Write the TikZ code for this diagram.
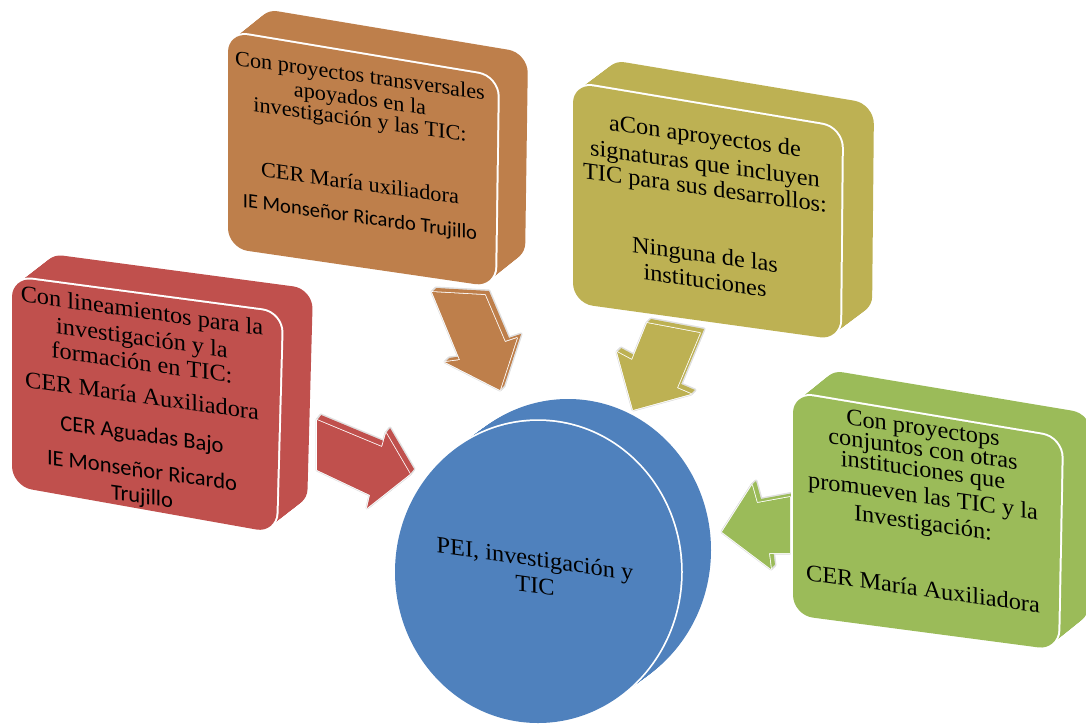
\documentclass[tikz,border=0pt]{standalone}
\usepackage{fontspec}
\newfontfamily\serifA[FakeStretch=1.035]{Liberation Serif}
\newfontfamily\calA{Carlito}
\definecolor{cred}{HTML}{C0504D}
\definecolor{corange}{HTML}{BE7F4B}
\definecolor{colive}{HTML}{BDB153}
\definecolor{cgreen}{HTML}{9BBB59}
\definecolor{cblue}{HTML}{4F81BD}
\tikzset{
  ln/.style={yslant=-0.14, transform shape, inner sep=0pt, text height=15pt, text depth=0pt, anchor=center, font=\serifA\fontsize{23.5}{26}\selectfont},
  lns/.style={ln, font=\serifA\fontsize{21.5}{24}\selectfont},
  lc/.style={ln, font=\calA\fontsize{20.5}{24}\selectfont},
  lcb/.style={ln, font=\calA\fontsize{22.5}{26}\selectfont},
}
% #1 colour, #2-#5 corners, #6 dx, #7 dy
\newcommand\slab[7]{%
  \foreach \t in {0,0.04,...,1.001}{\fill[#1, rounded corners=20pt, shift={(\t*#6,\t*#7)}] #2 -- #3 -- #4 -- #5 -- cycle;}
  \draw[white, line width=4pt, rounded corners=20pt] #2 -- #3 -- #4 -- #5 -- cycle;
  \fill[#1, rounded corners=20pt] #2 -- #3 -- #4 -- #5 -- cycle;
}
% #1 colour, #2 dx, #3 dy, #4 outline
\newcommand\blockarrow[4]{%
  \foreach \t in {0,0.1,...,1.001}{\draw[black!12, line width=3pt, line join=round, shift={(\t*#2,\t*#3)}] #4 -- cycle;}
  \foreach \t in {0,0.1,...,1.001}{\fill[#1, shift={(\t*#2,\t*#3)}] #4 -- cycle;}
  \draw[white, line width=1.6pt, line join=round] #4 -- cycle;
  \fill[#1] #4 -- cycle;
}
\begin{document}
\begin{tikzpicture}[x=1pt,y=-1pt]
\useasboundingbox (0,0) rectangle (1086,725);
\fill[white] (0,0) rectangle (1086,725);
\clip (0,0) rectangle (1086,725);

% arrows
\blockarrow{cred}{4}{-5}{(317,420) -- (382,447) -- (386,433) -- (410,474) -- (367,508) -- (370,495) -- (317,470)}
\blockarrow{corange}{4}{-4}{(432,292) -- (460,360) -- (445,362) -- (500,390) -- (517,338) -- (505,342) -- (485,295)}
\blockarrow{colive}{4}{-4}{(647,323) -- (632,360) -- (617,352) -- (633,410) -- (691,394) -- (677,388) -- (700,333)}
\blockarrow{cgreen}{4}{-4}{(790,497) -- (757,503) -- (752,485) -- (722,532) -- (771,569) -- (769,553) -- (790,553)}

% boxes
\slab{cred}{(12,277)}{(282,313)}{(276,533)}{(12,486)}{31}{-24}
\slab{corange}{(228,32)}{(498,77)}{(495,287)}{(228,248)}{30}{-24}
\slab{colive}{(573,83)}{(842,128)}{(840,340)}{(573,303)}{32}{-24}
\slab{cgreen}{(793,393)}{(1062,438)}{(1058,650)}{(793,615)}{30}{-24}

% hub
\foreach \t in {0,0.04,...,1.001}{\fill[cblue] (538+\t*30, 572-\t*22) ellipse [x radius=143pt, y radius=151pt];}
\draw[white, line width=3.5pt] (538,572) ellipse [x radius=143pt, y radius=151pt];
\fill[cblue] (538,572) ellipse [x radius=143pt, y radius=151pt];

% texts
\node[ln] (r1) at (142,311) {Con lineamientos para la};
\node[ln] (r2) at (142,338) {investigación y la};
\node[ln] (r3) at (142,363) {formación en TIC:};
\node[ln] (r4) at (142,396) {CER María Auxiliadora};
\node[lcb] (r5) at (142,434) {CER Aguadas Bajo};
\node[lcb] (r6) at (142,470) {IE Monseñor Ricardo};
\node[lcb] (r7) at (142,496) {Trujillo};

\node[lns] (o1) at (360,75) {Con proyectos transversales};
\node[lns] (o2) at (360,98) {apoyados en la};
\node[lns] (o3) at (360,119) {investigación y las TIC:};
\node[lns] (o4) at (360,183) {CER María uxiliadora};
\node[lc] (o5) at (360,216) {IE Monseñor Ricardo Trujillo};

\node[ln] (v1) at (705,136) {aCon aproyectos de};
\node[ln] (v2) at (705,164) {signaturas que incluyen};
\node[ln] (v3) at (705,188) {TIC para sus desarrollos:};
\node[ln] (v4) at (705,255) {Ninguna de las};
\node[ln] (v5) at (705,281) {instituciones};

\node[ln] (g1) at (923,428) {Con proyectops};
\node[ln] (g2) at (923,449) {conjuntos con otras};
\node[ln] (g3) at (923,470) {instituciones que};
\node[ln] (g4) at (923,496) {promueven las TIC y la};
\node[ln] (g5) at (923,523) {Investigación:};
\node[ln] (g6) at (923,589) {CER María Auxiliadora};

\node[ln] (c1) at (535,559) {PEI, investigación y};
\node[ln] (c2) at (535,586) {TIC};
\end{tikzpicture}
\end{document}
